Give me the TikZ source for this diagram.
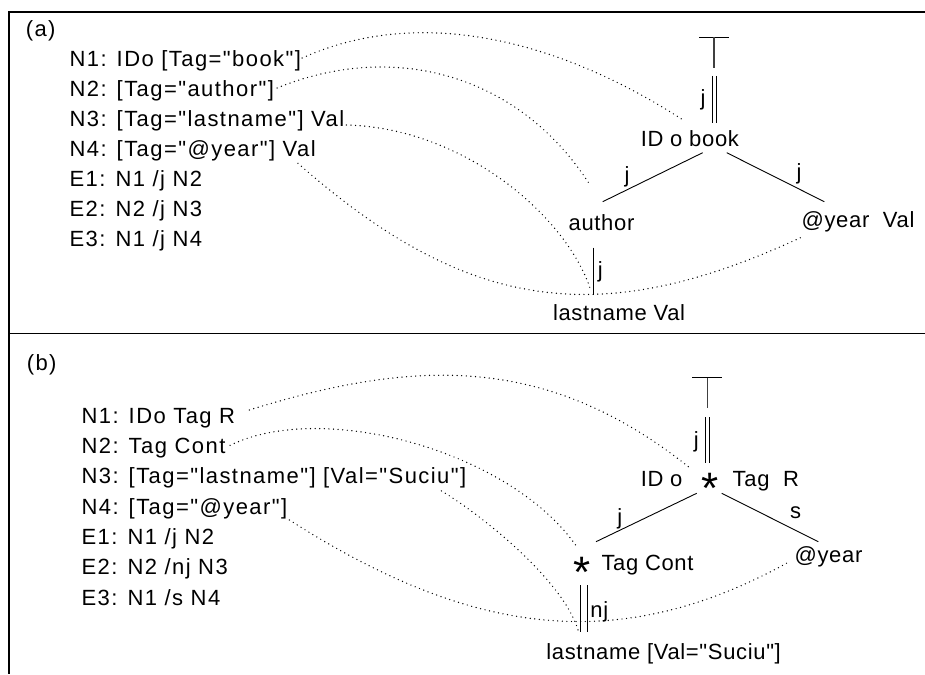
\documentclass[tikz,border=0pt]{standalone}
\usepackage{fontspec}
\setmainfont{Liberation Sans}
\newfontfamily\listfont{Liberation Sans}[LetterSpace=6.5]
\newfontfamily\treefont{Liberation Sans}[LetterSpace=3]
\begin{document}
\begin{tikzpicture}[x=1pt,y=-1pt,
  lst/.style={anchor=base west, inner sep=0pt, font=\listfont\fontsize{22}{26}\selectfont},
  lbl/.style={anchor=base west, inner sep=0pt, font=\treefont\fontsize{22}{26}\selectfont},
  starsym/.style={anchor=base, inner sep=0pt, font=\fontsize{44}{44}\selectfont},
  edge/.style={line width=0.9pt},
  dots/.style={line width=1.4pt, line cap=round, dash pattern=on 0pt off 4.6pt, black},
  frame/.style={line width=1.1pt}]
\useasboundingbox (0,0) rectangle (925,674);
% frame
\coordinate (fTL) at (9,12);
\coordinate (fTR) at (925,12);
\coordinate (fML) at (9,333.5);
\coordinate (fMR) at (925,333.5);
\coordinate (fBL) at (9,674);
\draw[frame] (fTR) -- (fTL) -- (fBL);
\draw[frame] (fML) -- (fMR);

% ---------------- (a) ----------------
\node[lst] (alab) at (25.6,37) {(a)};
\node[lst] (a1) at (69.4,66.7) {N1: IDo [Tag="book"]};
\node[lst] (a2) at (69.4,96.7) {N2: [Tag="author"]};
\node[lst] (a3) at (69.4,126.7) {N3: [Tag="lastname"] Val};
\node[lst] (a4) at (69.4,156.7) {N4: [Tag="@year"] Val};
\node[lst] (a5) at (69.4,186.7) {E1: N1 /j N2};
\node[lst] (a6) at (69.4,216.7) {E2: N2 /j N3};
\node[lst] (a7) at (69.4,246.7) {E3: N1 /j N4};

\node[lbl] (abook) at (640.6,146.7) {ID o book};
\node[lbl] (aauth) at (568.5,230) {author};
\node[lbl] (ayear) at (801.4,227) {@year\ \ Val};
\node[lbl] (alast) at (552.8,320) {lastname Val};
\node[lbl] (ajt) at (700.4,106) {j};
\node[lbl] (ajl) at (624.4,182.5) {j};
\node[lbl] (ajr) at (796.4,179) {j};
\node[lbl] (ajb) at (597.7,277) {j};

\coordinate (aTt) at (714,37.3);
\coordinate (aD1) at (714.2,76);
\coordinate (aD2) at (714.2,123.3);
\coordinate (aL1) at (702.7,152.7);
\coordinate (aL2) at (602.7,201.7);
\coordinate (aR1) at (726.7,152.7);
\coordinate (aR2) at (824.3,201.7);
\coordinate (aV1) at (593.3,247.7);
\coordinate (aV2) at (593.3,295);

\draw[edge] ([xshift=-15pt]aTt) -- ([xshift=15pt]aTt);
\draw[line width=1.3pt, black!75] (aTt) -- ++(0,30.4);
\draw[edge] ([xshift=-1.9pt]aD1) -- ([xshift=-1.9pt]aD2);
\draw[edge] ([xshift=1.9pt]aD1) -- ([xshift=1.9pt]aD2);
\draw[edge] (aL1) -- (aL2);
\draw[edge] (aR1) -- (aR2);
\draw[edge] (aV1) -- (aV2);

\draw[dots] ([shift={(1,-8.7)}]a1.base east) .. controls +(120,-54) and +(-120,-78) .. ([shift={(42.4,-26.7)}]abook.base west);
\draw[dots] ([shift={(3,-8.7)}]a2.base east) .. controls +(118,-48) and +(-70,-110) .. ([shift={(21.5,-45)}]aauth.base west);
\draw[dots] ([shift={(2,-1.7)}]a3.base east) .. controls +(117,3) and +(-25,-73) .. ([shift={(37.2,-32)}]alast.base west);
\draw[dots] ([shift={(-18,6.6)}]a4.base east) .. controls +(170,150) and +(-200,93) .. ([shift={(0.6,10)}]ayear.base west);

% ---------------- (b) ----------------
\node[lst] (blab) at (26.6,370.5) {(b)};
\node[lst] (b1) at (81.4,423.3) {N1: IDo Tag R};
\node[lst] (b2) at (81.4,453.6) {N2: Tag Cont};
\node[lst] (b3) at (81.4,483.9) {N3: [Tag="lastname"] [Val="Suciu"]};
\node[lst] (b4) at (81.4,514.2) {N4: [Tag="@year"]};
\node[lst] (b5) at (81.4,544.5) {E1: N1 /j N2};
\node[lst] (b6) at (81.4,574.8) {E2: N2 /nj N3};
\node[lst] (b7) at (81.4,605.1) {E3: N1 /s N4};

\node[lbl] (bid) at (640.6,486.7) {ID o};
\node[starsym] (bstar) at (710,503.3) {*};
\node[lbl] (btag) at (732.5,486.7) {Tag\ \ R};
\node[starsym] (bstar2) at (582,587.5) {*};
\node[lbl] (bcont) at (601.3,570) {Tag Cont};
\node[lbl] (byear) at (794.4,562) {@year};
\node[lbl] (blast) at (546.2,659) {lastname [Val="Suciu"]};
\node[lbl] (bjt) at (693.7,447.5) {j};
\node[lbl] (bjl) at (617.1,524) {j};
\node[lbl] (bsr) at (790,518.3) {s};
\node[lbl] (bnj) at (590.2,617.5) {nj};

\coordinate (bTt) at (707.3,377.7);
\coordinate (bD1) at (707.7,417.3);
\coordinate (bD2) at (707.7,463.3);
\coordinate (bL1) at (696.7,493.3);
\coordinate (bL2) at (596,541.7);
\coordinate (bR1) at (721.7,493.3);
\coordinate (bR2) at (818.3,541.7);
\coordinate (bV1) at (583.7,585);
\coordinate (bV2) at (583.7,631.7);

\draw[edge] ([xshift=-15pt]bTt) -- ([xshift=15pt]bTt);
\draw[line width=1.3pt, black!75] (bTt) -- ++(0,30);
\draw[edge] ([xshift=-2pt]bD1) -- ([xshift=-2pt]bD2);
\draw[edge] ([xshift=2pt]bD1) -- ([xshift=2pt]bD2);
\draw[edge] (bL1) -- (bL2);
\draw[edge] (bR1) -- (bR2);
\draw[edge] ([xshift=-3.7pt]bV1) -- ([xshift=-3.7pt]bV2);
\draw[edge] ([xshift=3.7pt]bV1) -- ([xshift=3.7pt]bV2);

\draw[dots] ([shift={(14,-13.3)}]b1.base east) .. controls +(170,-53) and +(-140,-112) .. ([shift={(49.4,-18.7)}]bid.base west);
\draw[dots] ([shift={(4.5,-8.3)}]b2.base east) .. controls +(92,-45) and +(-67,-97) .. ([shift={(-24.3,-23)}]bcont.base west);
\draw[dots] ([shift={(-25,7)}]b3.base east) .. controls +(40,24) and +(-15,-50) .. ([shift={(31.8,-29)}]blast.base west);
\draw[dots] ([shift={(2,5.8)}]b4.base east) .. controls +(180,115) and +(-170,93.5) .. ([shift={(-7.4,1)}]byear.base west);
\end{tikzpicture}
\end{document}
